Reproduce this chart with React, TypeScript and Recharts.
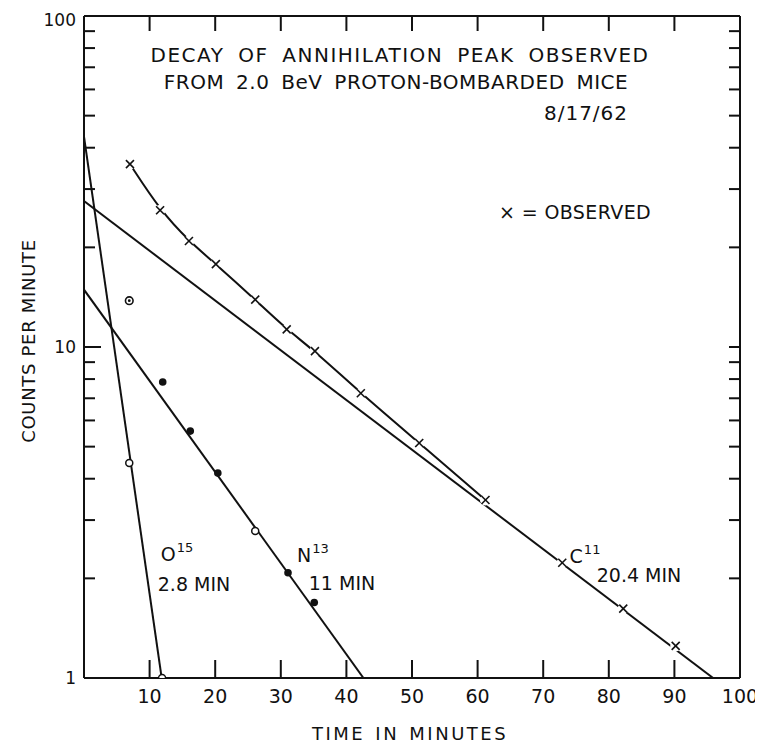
import React from 'react';
import { ComposedChart, Line, Scatter, XAxis, YAxis } from 'recharts';

// ---- axis ticks ----
const xTicks = [0, 10, 20, 30, 40, 50, 60, 70, 80, 90, 100];
const yTicks = [1, 2, 3, 4, 5, 6, 7, 8, 9, 10, 20, 30, 40, 50, 60, 70, 80, 90, 100];
const yLabels = [1, 10, 100];

// ---- observed counts (x markers) ----
const observed = [
  { x: 7.0, y: 35.7 },
  { x: 11.6, y: 25.9 },
  { x: 16.0, y: 20.9 },
  { x: 20.1, y: 17.8 },
  { x: 26.1, y: 13.9 },
  { x: 30.9, y: 11.3 },
  { x: 35.2, y: 9.72 },
  { x: 42.2, y: 7.25 },
  { x: 51.1, y: 5.13 },
  { x: 61.2, y: 3.45 },
  { x: 72.9, y: 2.23 },
  { x: 82.2, y: 1.62 },
  { x: 90.2, y: 1.25 },
];
const observedCurve = observed.slice(0, 10);

// ---- component fits ----
const c11Fit = [
  { x: 0, y: 27.6 },
  { x: 95.9, y: 1 },
];
const n13Fit = [
  { x: 0, y: 14.9 },
  { x: 42.6, y: 1 },
];
const o15Fit = [
  { x: 0, y: 43.2 },
  { x: 11.84, y: 1 },
];

// ---- derived points ----
const n13Filled = [
  { x: 12.0, y: 7.84 },
  { x: 16.2, y: 5.57 },
  { x: 20.4, y: 4.16 },
  { x: 31.1, y: 2.08 },
  { x: 35.1, y: 1.69 },
];
const n13Open = [{ x: 26.1, y: 2.78 }];
const ringDot = [{ x: 6.9, y: 13.8 }];
const o15Open = [
  { x: 6.9, y: 4.46 },
  { x: 11.9, y: 1.0 },
];

const INK = '#111';
const FONT = '"DejaVu Sans", sans-serif';

const XMark = (p: any) => {
  const { cx, cy } = p;
  if (cx == null || cy == null) return <g />;
  const s = 4;
  return (
    <g>
      <circle cx={cx} cy={cy} r={5.5} fill="#fff" />
      <line x1={cx - s} y1={cy - s} x2={cx + s} y2={cy + s} stroke={INK} strokeWidth={1.6} />
      <line x1={cx - s} y1={cy + s} x2={cx + s} y2={cy - s} stroke={INK} strokeWidth={1.6} />
    </g>
  );
};
const FilledDot = (p: any) => <circle cx={p.cx} cy={p.cy} r={3.8} fill={INK} />;
const OpenDot = (p: any) => (
  <circle cx={p.cx} cy={p.cy} r={3.5} fill="#fff" stroke={INK} strokeWidth={1.5} />
);
const RingDot = (p: any) => (
  <g>
    <circle cx={p.cx} cy={p.cy} r={3.8} fill="#fff" stroke={INK} strokeWidth={1.6} />
    <circle cx={p.cx} cy={p.cy} r={1.4} fill={INK} />
  </g>
);

const LeftTick = (p: any) => {
  const { x, y, payload } = p;
  const v = payload.value;
  const len = v === 10 ? 17 : 11;
  return (
    <g>
      {v !== 1 && v !== 100 && (
        <line x1={x} x2={x + len} y1={y} y2={y} stroke={INK} strokeWidth={2} />
      )}
      {yLabels.includes(v) && (
        <text x={x - 8} y={y} dy={v === 100 ? 10 : 6} textAnchor="end" fontSize={17} fontFamily={FONT} fill={INK}>
          {v}
        </text>
      )}
    </g>
  );
};
const RightTick = (p: any) => {
  const { x, y, payload } = p;
  const v = payload.value;
  if (v === 1 || v === 100) return <g />;
  return <line x1={x} x2={x - 11} y1={y} y2={y} stroke={INK} strokeWidth={2} />;
};
const BottomTick = (p: any) => {
  const { x, y, payload } = p;
  const v = payload.value;
  return (
    <g>
      {v > 0 && v < 100 && <line x1={x} x2={x} y1={y} y2={y - 18} stroke={INK} strokeWidth={2} />}
      {v > 0 && (
        <text x={x} y={y + 25} textAnchor="middle" fontSize={19} fontFamily={FONT} fill={INK}>
          {v}
        </text>
      )}
    </g>
  );
};
const TopTick = (p: any) => {
  const { x, y, payload } = p;
  const v = payload.value;
  if (v === 0 || v === 100) return <g />;
  return <line x1={x} x2={x} y1={y} y2={y + 15} stroke={INK} strokeWidth={2} />;
};

const txt = (
  left: number,
  top: number,
  content: React.ReactNode,
  extra: React.CSSProperties = {}
) => (
  <div
    style={{
      position: 'absolute',
      left,
      top,
      transform: 'translate(-50%, -50%)',
      whiteSpace: 'nowrap',
      lineHeight: 1,
      fontFamily: FONT,
      color: INK,
      fontSize: 19,
      ...extra,
    }}
  >
    {content}
  </div>
);

const sup = (s: string) => (
  <span style={{ fontSize: 13, position: 'relative', top: -9, marginLeft: 1 }}>{s}</span>
);

export default function App() {
  return (
    <div style={{ position: 'relative', width: 755, height: 740, marginBottom: -8, background: '#fff' }}>
      <style>{'svg.recharts-surface, .recharts-wrapper, .recharts-wrapper svg{overflow:visible !important}'}</style>
      <ComposedChart width={747} height={732} margin={{ top: 7, right: 14, bottom: 0, left: 0 }} style={{ overflow: 'visible' }}>
        <XAxis
          xAxisId="b"
          type="number"
          dataKey="x"
          domain={[0, 100]}
          ticks={xTicks}
          allowDataOverflow
          height={62}
          tickSize={0}
          tickMargin={0}
          tickLine={false}
          axisLine={{ stroke: INK, strokeWidth: 2 }}
          tick={<BottomTick />}
          interval={0}
        />
        <XAxis
          xAxisId="t"
          orientation="top"
          type="number"
          dataKey="x"
          domain={[0, 100]}
          ticks={xTicks}
          allowDataOverflow
          height={1}
          tickSize={0}
          tickMargin={0}
          tickLine={false}
          axisLine={{ stroke: INK, strokeWidth: 2 }}
          tick={<TopTick />}
          interval={0}
        />
        <YAxis
          yAxisId="l"
          scale="log"
          type="number"
          dataKey="y"
          domain={[1, 100]}
          ticks={yTicks}
          allowDataOverflow
          width={76}
          tickSize={0}
          tickMargin={0}
          tickLine={false}
          axisLine={{ stroke: INK, strokeWidth: 2 }}
          tick={<LeftTick />}
          interval={0}
        />
        <YAxis
          yAxisId="r"
          orientation="right"
          scale="log"
          type="number"
          dataKey="y"
          domain={[1, 100]}
          ticks={yTicks}
          allowDataOverflow
          width={1}
          tickSize={0}
          tickMargin={0}
          tickLine={false}
          axisLine={{ stroke: INK, strokeWidth: 2 }}
          tick={<RightTick />}
          interval={0}
        />
        <Line xAxisId="b" yAxisId="l" data={o15Fit} dataKey="y" type="linear" stroke={INK} strokeWidth={2} dot={false} activeDot={false} isAnimationActive={false} />
        <Line xAxisId="b" yAxisId="l" data={n13Fit} dataKey="y" type="linear" stroke={INK} strokeWidth={2} dot={false} activeDot={false} isAnimationActive={false} />
        <Line xAxisId="b" yAxisId="l" data={c11Fit} dataKey="y" type="linear" stroke={INK} strokeWidth={2} dot={false} activeDot={false} isAnimationActive={false} />
        <Line xAxisId="b" yAxisId="l" data={observedCurve} dataKey="y" type="basis" stroke={INK} strokeWidth={2} dot={false} activeDot={false} isAnimationActive={false} />
        <Scatter xAxisId="b" yAxisId="l" data={observed} dataKey="y" shape={XMark} isAnimationActive={false} />
        <Scatter xAxisId="b" yAxisId="l" data={n13Filled} dataKey="y" shape={FilledDot} isAnimationActive={false} />
        <Scatter xAxisId="b" yAxisId="l" data={n13Open} dataKey="y" shape={OpenDot} isAnimationActive={false} />
        <Scatter xAxisId="b" yAxisId="l" data={ringDot} dataKey="y" shape={RingDot} isAnimationActive={false} />
        <Scatter xAxisId="b" yAxisId="l" data={o15Open} dataKey="y" shape={OpenDot} isAnimationActive={false} />
      </ComposedChart>

      {txt(392, 47, 'DECAY OF ANNIHILATION PEAK OBSERVED', { fontSize: 20, letterSpacing: 1.5, wordSpacing: 6 })}
      {txt(388, 74, 'FROM 2.0 BeV PROTON-BOMBARDED MICE', { fontSize: 20, letterSpacing: 0.5, wordSpacing: 5 })}
      {txt(578, 105, '8/17/62', { fontSize: 20, letterSpacing: 1 })}
      {txt(567, 204, '× = OBSERVED', { fontSize: 19, letterSpacing: 0.4 })}

      {txt(169, 546, <span>O{sup('15')}</span>)}
      {txt(186, 576, '2.8 MIN')}
      {txt(305, 547, <span>N{sup('13')}</span>)}
      {txt(334, 575, '11 MIN')}
      {txt(577, 548, <span>C{sup('11')}</span>)}
      {txt(631, 567, '20.4 MIN')}

      {txt(402, 726, 'TIME IN MINUTES', { fontSize: 18, letterSpacing: 2.5, wordSpacing: 2 })}
      {txt(21, 333, 'COUNTS PER MINUTE', { fontSize: 18, letterSpacing: 0.7, transform: 'translate(-50%, -50%) rotate(-90deg)' })}
    </div>
  );
}
